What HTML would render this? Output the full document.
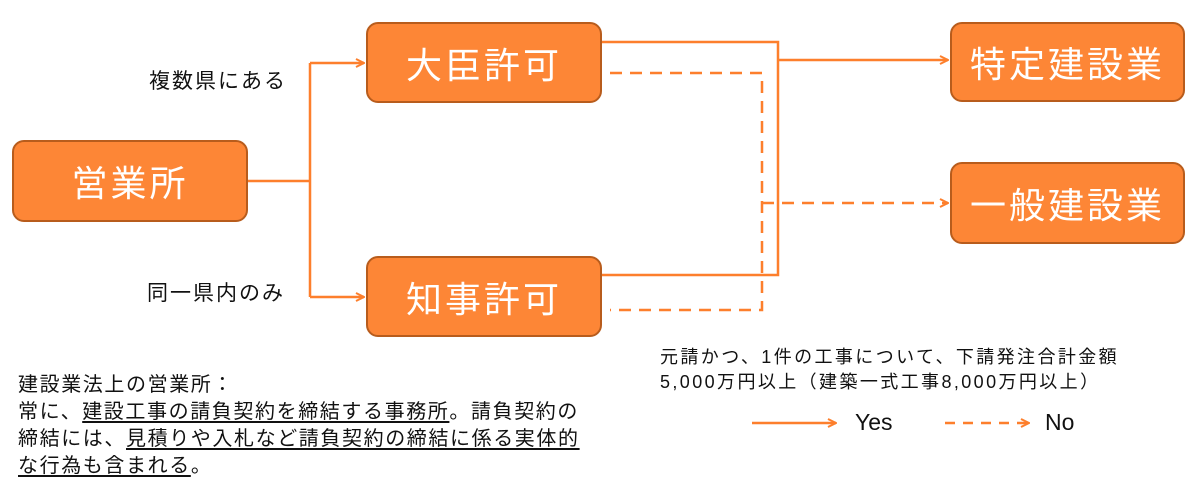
<!DOCTYPE html>
<html><head><meta charset="utf-8"><style>
html,body{margin:0;padding:0;background:#fff;}
body{width:1200px;height:500px;position:relative;overflow:hidden;font-family:"Liberation Sans","Noto Sans CJK JP",sans-serif;color:#111;}
.box{position:absolute;background:#FD8636;border:2px solid #B85C1C;border-radius:12px;color:#fff;font-size:36px;display:flex;align-items:center;justify-content:center;letter-spacing:3px;box-sizing:border-box;}
.t{position:absolute;white-space:nowrap;}
u{text-decoration:underline;text-underline-offset:3px;}
</style></head><body>
<svg width="1200" height="500" style="position:absolute;left:0;top:0">
<defs><marker id="a" markerWidth="10" markerHeight="10" refX="9" refY="5" orient="auto" markerUnits="userSpaceOnUse"><path d="M1,1 L9,5 L1,9" fill="none" stroke="#FD7F2C" stroke-width="2"/></marker></defs>
<g stroke="#FD7F2C" stroke-width="2.5" fill="none">
<path d="M248,181 H310 M310,63 V297"/>
<path d="M310,63 H364" marker-end="url(#a)"/>
<path d="M310,297 H364" marker-end="url(#a)"/>
<path d="M602,42 H778 V275 H602"/>
<path d="M778,60 H948" marker-end="url(#a)"/>
<path d="M610,73 H762 V310 H610" stroke-dasharray="12,8"/>
<path d="M762,203 H948" stroke-dasharray="12,8" marker-end="url(#a)"/>
<path d="M752,423 H836" marker-end="url(#a)"/>
<path d="M945,423 H1029" stroke-dasharray="10,8" marker-end="url(#a)"/>
</g></svg>
<div class="box" style="left:12px;top:140px;width:236px;height:82px">営業所</div>
<div class="box" style="left:366px;top:22px;width:236px;height:81px">大臣許可</div>
<div class="box" style="left:366px;top:256px;width:236px;height:81px">知事許可</div>
<div class="box" style="left:950px;top:22px;width:235px;height:80px">特定建設業</div>
<div class="box" style="left:950px;top:162px;width:235px;height:82px">一般建設業</div>
<div class="t" style="left:149px;top:65px;font-size:21px;letter-spacing:2px">複数県にある</div>
<div class="t" style="left:147px;top:277px;font-size:21px;letter-spacing:2px">同一県内のみ</div>
<div class="t" style="left:660px;top:345px;font-size:18px;line-height:25px;letter-spacing:2.4px">元請かつ、1件の工事について、下請発注合計金額<br>5,000万円以上（建築一式工事8,000万円以上）</div>
<div class="t" style="left:855px;top:409px;font-size:23px">Yes</div>
<div class="t" style="left:1045px;top:409px;font-size:23px">No</div>
<div class="t" style="left:18px;top:372px;font-size:20px;line-height:27px;letter-spacing:1.6px">建設業法上の営業所：<br>常に、<u>建設工事の請負契約を締結する事務所</u>。請負契約の<br>締結には、<u>見積りや入札など請負契約の締結に係る実体的<br>な行為も含まれる</u>。</div>
</body></html>
